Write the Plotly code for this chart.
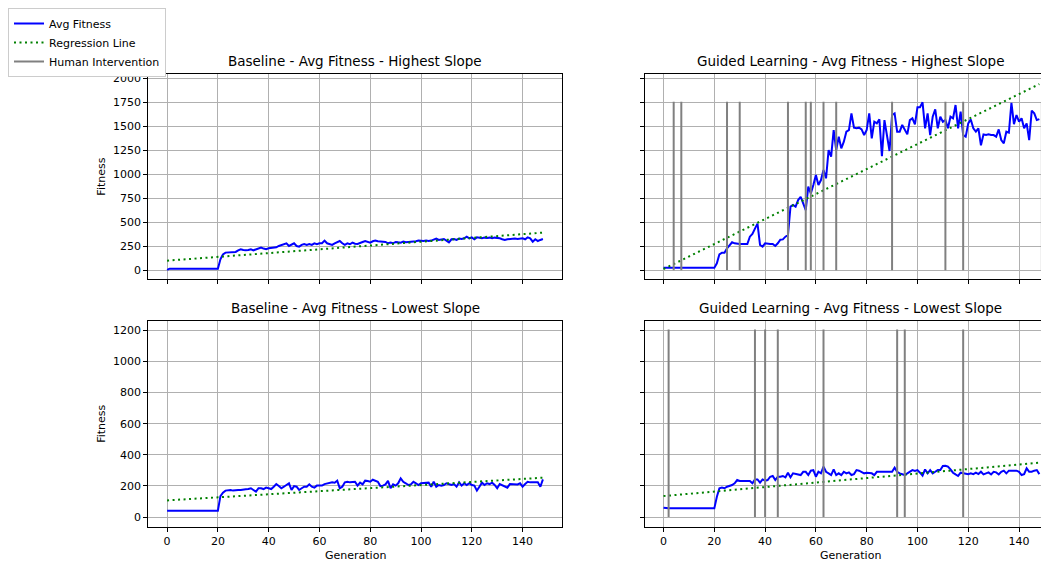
import plotly.graph_objects as go

# ---------------- data ----------------
generations = list(range(149))

baseline_high = [
    5, 17, 17, 17, 17, 17, 17, 17, 17, 17,
    17, 17, 17, 17, 17, 17, 17, 17, 17, 17,
    17, 114, 166, 184, 187, 191, 191, 191, 208, 219,
    212, 208, 212, 219, 208, 219, 229, 236, 226, 219,
    229, 233, 239, 239, 253, 264, 274, 281, 253, 264,
    281, 253, 246, 264, 274, 264, 274, 264, 281, 271,
    281, 281, 309, 281, 271, 264, 281, 291, 305, 281,
    264, 281, 271, 288, 276, 274, 281, 295, 305, 298,
    288, 302, 309, 302, 302, 302, 295, 281, 288, 281,
    295, 291, 288, 298, 291, 295, 295, 302, 302, 309,
    305, 305, 309, 305, 309, 316, 330, 316, 323, 326,
    309, 291, 323, 326, 316, 330, 326, 333, 350, 333,
    343, 323, 343, 336, 333, 340, 336, 340, 333, 340,
    340, 333, 323, 316, 323, 326, 323, 330, 326, 330,
    333, 323, 343, 333, 298, 323, 305, 316, 326,
]

guided_high = [
    25, 25, 25, 25, 25, 25, 25, 25, 25, 25,
    25, 25, 25, 25, 25, 25, 25, 25, 25, 25,
    25, 73, 166, 183, 183, 229, 264, 292, 281, 274,
    274, 274, 274, 274, 350, 378, 434, 486, 264, 246,
    281, 274, 274, 274, 253, 281, 319, 322, 350, 365,
    663, 680, 663, 732, 766, 698, 626, 871, 800, 888,
    993, 888, 940, 1045, 958, 1253, 1184, 1461, 1253, 1392,
    1270, 1340, 1444, 1461, 1635, 1486, 1479, 1486, 1468, 1409,
    1461, 1635, 1375, 1548, 1531, 1572, 1190, 1565, 1392, 1243,
    1618, 1635, 1444, 1444, 1514, 1461, 1416, 1565, 1583, 1520,
    1698, 1698, 1750, 1479, 1635, 1409, 1600, 1677, 1479, 1600,
    1548, 1565, 1479, 1600, 1583, 1722, 1479, 1653, 1409, 1392,
    1531, 1572, 1479, 1444, 1479, 1302, 1416, 1409, 1416, 1409,
    1409, 1392, 1468, 1357, 1323, 1444, 1434, 1745, 1523, 1618,
    1548, 1583, 1479, 1531, 1357, 1663, 1635, 1565, 1575,
]

baseline_low = [
    41, 41, 41, 41, 41, 41, 41, 41, 41, 41,
    41, 41, 41, 41, 41, 41, 41, 41, 41, 41,
    41, 135, 157, 170, 174, 174, 170, 174, 174, 174,
    174, 178, 180, 185, 174, 163, 185, 185, 180, 189,
    185, 180, 195, 212, 199, 185, 195, 206, 217, 174,
    199, 195, 174, 185, 195, 195, 210, 195, 189, 202,
    202, 202, 212, 217, 223, 223, 221, 234, 185, 195,
    223, 227, 223, 223, 227, 202, 221, 210, 234, 232,
    227, 240, 234, 227, 199, 202, 210, 232, 185, 210,
    202, 217, 249, 227, 217, 206, 210, 227, 217, 206,
    217, 217, 221, 221, 195, 227, 195, 206, 202, 206,
    217, 212, 206, 212, 195, 223, 202, 217, 206, 217,
    206, 202, 170, 195, 221, 206, 217, 212, 221, 206,
    185, 212, 206, 195, 189, 212, 210, 210, 210, 217,
    195, 212, 227, 223, 223, 221, 223, 195, 242,
]

guided_low = [
    60, 56, 56, 56, 56, 56, 56, 56, 56, 56,
    56, 56, 56, 56, 56, 56, 56, 56, 56, 56,
    56, 131, 185, 189, 185, 195, 199, 206, 217, 238,
    232, 232, 232, 232, 232, 217, 242, 242, 221, 242,
    234, 238, 259, 264, 238, 259, 259, 264, 255, 285,
    255, 281, 276, 276, 270, 291, 291, 270, 298, 302,
    259, 291, 281, 324, 291, 281, 270, 306, 270, 281,
    270, 291, 281, 287, 270, 276, 302, 298, 291, 281,
    285, 285, 281, 270, 291, 291, 291, 287, 291, 287,
    291, 317, 291, 281, 274, 270, 281, 291, 302, 296,
    302, 285, 266, 306, 281, 302, 281, 291, 302, 302,
    328, 330, 324, 306, 285, 274, 264, 285, 281, 276,
    276, 281, 276, 285, 276, 291, 274, 281, 287, 274,
    291, 287, 274, 291, 298, 281, 298, 298, 298, 298,
    291, 270, 276, 313, 291, 291, 298, 302, 276,
]

# regression line end points (generation 0 and 148)
reg_x = [0, 148]
reg_baseline_high = [100, 392]
reg_guided_high = [13, 1940]
reg_baseline_low = [107, 253]
reg_guided_low = [135, 349]

# human interventions (generation index) and vertical extent
interv_high = [4, 7, 25, 30, 49, 56, 58, 63, 68, 90, 111, 118, 149]
interv_high_top = 1755
interv_low = [2, 36, 40, 45, 63, 92, 95, 118]
interv_low_top = 1205

titles = [
    "Baseline - Avg Fitness - Highest Slope",
    "Guided Learning - Avg Fitness - Highest Slope",
    "Baseline - Avg Fitness - Lowest Slope",
    "Guided Learning - Avg Fitness - Lowest Slope",
]
x_ticks = [0, 20, 40, 60, 80, 100, 120, 140]
y_ticks_high = [0, 250, 500, 750, 1000, 1250, 1500, 1750, 2000]
y_ticks_low = [0, 200, 400, 600, 800, 1000, 1200]

# ---------------- figure ----------------
OFF = 8  # page body margin
W, H = 1049 - OFF, 561 - OFF
FONT = "DejaVu Sans"
BLUE = "#0000ff"
GREEN = "#008000"
GRAY = "#808080"


def xp(px):
    return (px - OFF) / W


def yp(py):
    return 1 - (py - OFF) / H


fig = go.Figure()

panels = [
    (baseline_high, reg_baseline_high, None, None),
    (guided_high, reg_guided_high, interv_high, interv_high_top),
    (baseline_low, reg_baseline_low, None, None),
    (guided_low, reg_guided_low, interv_low, interv_low_top),
]

shown = set()
for i, (fit, reg, interv, top) in enumerate(panels):
    xa = "x" if i == 0 else f"x{i+1}"
    ya = "y" if i == 0 else f"y{i+1}"
    fig.add_trace(go.Scatter(
        x=generations, y=fit, mode="lines", name="Avg Fitness",
        line=dict(color=BLUE, width=2), xaxis=xa, yaxis=ya,
        showlegend="fit" not in shown, legendgroup="fit"))
    shown.add("fit")
    fig.add_trace(go.Scatter(
        x=reg_x, y=reg, mode="lines", name="Regression Line",
        line=dict(color=GREEN, width=2, dash="2px,3.5px"), xaxis=xa, yaxis=ya,
        showlegend="reg" not in shown, legendgroup="reg"))
    shown.add("reg")
    if interv:
        vx, vy = [], []
        for g in interv:
            vx += [g, g, None]
            vy += [0, top, None]
        fig.add_trace(go.Scatter(
            x=vx, y=vy, mode="lines", name="Human Intervention",
            line=dict(color=GRAY, width=2), xaxis=xa, yaxis=ya,
            showlegend="int" not in shown, legendgroup="int"))
        shown.add("int")

LX0, LX1 = 148.3, 561.7
RX0, RX1 = 645.0, 1049.0
RX1_FULL = 1055.7
TY0, TY1 = 74.3, 279.0
BY0, BY1 = 321.0, 526.7

x_left = [xp(LX0), xp(LX1)]
x_right = [xp(RX0), 1.0]
y_top = [yp(TY1), yp(TY0)]
y_bot = [yp(BY1), yp(BY0)]

tickfont = dict(family=FONT, size=11, color="black")
common_x = dict(showgrid=True, gridcolor="#b0b0b0", gridwidth=1, zeroline=False,
                showline=True, linecolor="black", linewidth=1, mirror=True,
                ticks="outside", ticklen=4, tickcolor="black", tickwidth=1,
                tickvals=x_ticks, tickfont=tickfont, automargin=False)
common_y = dict(showgrid=True, gridcolor="#b0b0b0", gridwidth=1, zeroline=False,
                showline=True, linecolor="black", linewidth=1,
                ticks="outside", ticklen=4, tickcolor="black", tickwidth=1,
                tickfont=tickfont, automargin=False)

fig.update_layout(
    xaxis=dict(**common_x, domain=x_left, range=[-7.4, 155.4], anchor="y", showticklabels=False),
    xaxis2=dict(**common_x, domain=x_right, range=[-7.3, 151.8], anchor="y2", showticklabels=False),
    xaxis3=dict(**common_x, domain=x_left, range=[-7.4, 155.4], anchor="y3"),
    xaxis4=dict(**common_x, domain=x_right, range=[-7.3, 151.8], anchor="y4"),
    yaxis=dict(**common_y, domain=y_top, range=[-91, 2042], anchor="x",
               tickvals=y_ticks_high, mirror=True),
    yaxis2=dict(**common_y, domain=y_top, range=[-91, 2042], anchor="x2",
                tickvals=y_ticks_high, showticklabels=False, mirror=False),
    yaxis3=dict(**common_y, domain=y_bot, range=[-62, 1260], anchor="x3",
                tickvals=y_ticks_low, mirror=True),
    yaxis4=dict(**common_y, domain=y_bot, range=[-62, 1260], anchor="x4",
                tickvals=y_ticks_low, showticklabels=False, mirror=False),
)

annotations = []
title_pos = [
    ((LX0 + LX1) / 2, TY0), ((RX0 + RX1_FULL) / 2, TY0),
    ((LX0 + LX1) / 2, BY0), ((RX0 + RX1_FULL) / 2, BY0),
]
for t, (cx, ty) in zip(titles, title_pos):
    annotations.append(dict(text=t, x=xp(cx), y=yp(ty), xref="paper", yref="paper",
                            xanchor="center", yanchor="bottom", yshift=3,
                            showarrow=False, font=dict(family=FONT, size=13.5, color="black")))
for (a, b) in ((TY0, TY1), (BY0, BY1)):
    annotations.append(dict(text="Fitness", x=xp(102), y=yp((a + b) / 2),
                            xref="paper", yref="paper", textangle=-90,
                            xanchor="center", yanchor="middle", showarrow=False,
                            font=dict(family=FONT, size=11, color="black")))
for cx in ((LX0 + LX1) / 2, (RX0 + RX1_FULL) / 2):
    annotations.append(dict(text="Generation", x=xp(cx), y=yp(555),
                            xref="paper", yref="paper", xanchor="center", yanchor="middle",
                            showarrow=False, font=dict(family=FONT, size=11, color="black")))

fig.update_layout(
    width=W, height=H,
    margin=dict(l=0, r=0, t=0, b=0),
    paper_bgcolor="white", plot_bgcolor="white",
    font=dict(family=FONT, size=11, color="black"),
    annotations=annotations,
    legend=dict(x=0.0, y=1.0, xanchor="left", yanchor="top",
                bgcolor="white", bordercolor="#cccccc", borderwidth=1,
                font=dict(family=FONT, size=11, color="black"),
                itemwidth=30, tracegroupgap=0),
)

fig.write_html("out.html")
